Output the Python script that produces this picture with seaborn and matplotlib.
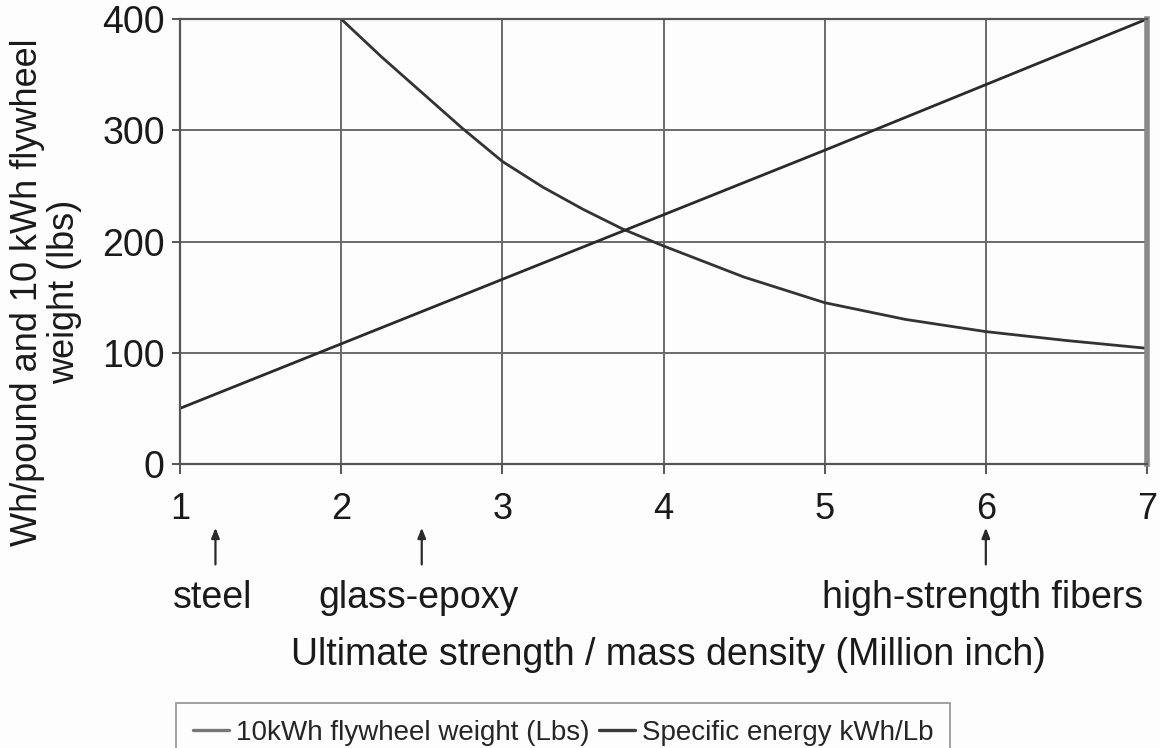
import matplotlib
matplotlib.use("Agg")
import matplotlib.pyplot as plt
import matplotlib.transforms as mtransforms
import numpy as np
import pandas as pd
import seaborn as sns

# Flywheel weight for a 10 kWh store (lbs) vs. strength-to-density ratio
weight_x = [2.0, 2.25, 2.5, 2.75, 3.0, 3.25, 3.5, 3.75, 4.0, 4.5, 5.0, 5.5, 6.0, 6.5, 7.0]
weight_y = [400, 366, 334, 302, 272, 249, 229, 211, 196, 168, 145, 130, 119, 111, 104]

# Specific energy (Wh per pound) vs. strength-to-density ratio
energy_x = [1, 2, 3, 4, 5, 6, 7]
energy_y = [50, 108, 166, 224, 282, 341, 400]

series_names = ["10kWh flywheel weight (Lbs)", "Specific energy kWh/Lb"]

# Materials marked below the axis
materials = ["steel", "glass-epoxy", "high-strength fibers"]
material_x = [1.22, 2.5, 6.0]

x_ticks = [1, 2, 3, 4, 5, 6, 7]
y_ticks = [0, 100, 200, 300, 400]

df = pd.concat([
    pd.DataFrame({"x": weight_x, "y": weight_y, "series": series_names[0]}),
    pd.DataFrame({"x": energy_x, "y": energy_y, "series": series_names[1]}),
], ignore_index=True)

sns.set_theme(style="white")
plt.rcParams["font.family"] = ["Liberation Sans", "DejaVu Sans"]

fig = plt.figure(figsize=(11.6, 7.48), dpi=100)
fig.patch.set_facecolor("#fdfdfd")
ax = fig.add_axes([180 / 1160, 1 - 464 / 748, 967 / 1160, 445 / 748])
ax.set_facecolor("#fdfdfd")

sns.lineplot(data=df, x="x", y="y", hue="series", sort=False,
             palette=["#333333", "#2a2a2a"], linewidth=2.0, ax=ax, legend=False)

ax.set_xlim(1, 7)
ax.set_ylim(0, 400)
ax.set_xticks(x_ticks)
ax.set_yticks(y_ticks)
ax.grid(True, color="#6a6a6a", linewidth=1.4)
ax.set_axisbelow(True)

for side in ["left", "bottom", "top"]:
    ax.spines[side].set_color("#555555")
    ax.spines[side].set_linewidth(1.6)
ax.spines["right"].set_color("#8a8a8a")
ax.spines["right"].set_linewidth(4)

ax.tick_params(axis="x", bottom=True, length=7, width=1.4, color="#555555",
               pad=13, labelsize=26, labelcolor="#1a1a1a")
ax.tick_params(axis="y", left=True, length=6, width=1.4, color="#555555",
               pad=5, labelsize=27, labelcolor="#1a1a1a")

ax.set_xlabel("")
ax.set_ylabel("")
fig.text(668 / 1160, 1 - 655 / 748,
         "Ultimate strength / mass density (Million inch)",
         ha="center", va="center", fontsize=27, color="#1a1a1a")
fig.text(46 / 1160, 1 - 292 / 748,
         "Wh/pound and 10 kWh flywheel\nweight (lbs)",
         ha="center", va="center", rotation=90, fontsize=26,
         linespacing=1.08, multialignment="center", color="#1a1a1a")

# Arrows and labels for each material class
trans = mtransforms.blended_transform_factory(ax.transData, ax.transAxes)
for name, mx in zip(materials, material_x):
    ax.annotate("", xy=(mx, -0.137), xytext=(mx, -0.232),
                xycoords=trans, textcoords=trans, annotation_clip=False,
                arrowprops=dict(arrowstyle="-|>,head_length=0.5,head_width=0.2",
                                color="#2a2a2a", lw=1.6))
    ax.text(mx - 0.02, -0.30, name, transform=trans, ha="center", va="center",
            fontsize=27, color="#1a1a1a", clip_on=False)

# Legend box along the bottom edge
handles = [plt.Line2D([], [], color="#777777", lw=2.4),
           plt.Line2D([], [], color="#3a3a3a", lw=2.4)]
leg = fig.legend(handles, series_names, loc="upper left",
                 bbox_to_anchor=(176 / 1160, 1 - 703 / 748),
                 ncol=2, fontsize=20, frameon=True, fancybox=False,
                 handlelength=1.3, handletextpad=0.25, columnspacing=0.35,
                 borderpad=0.6, borderaxespad=0)
leg.get_frame().set_edgecolor("#8a8a8a")
leg.get_frame().set_linewidth(1.4)
leg.get_frame().set_facecolor("#fdfdfd")

fig.savefig("out.png", dpi=100, facecolor=fig.get_facecolor())
